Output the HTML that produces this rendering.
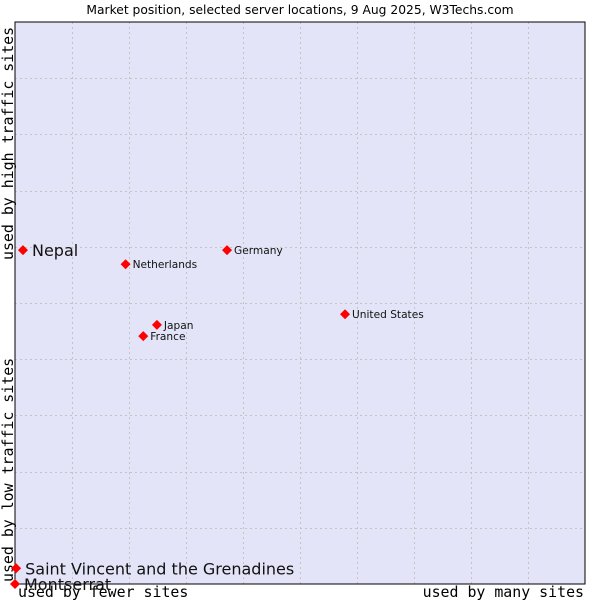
<!DOCTYPE html>
<html><head><meta charset="utf-8"><style>
body{margin:0;background:#fff;}
svg{display:block;font-family:"DejaVu Sans","Liberation Sans",sans-serif;}
.ax{font-family:"DejaVu Sans Mono","Liberation Mono",monospace;font-size:14.9px;fill:#000;}
</style></head><body>
<svg id="chart" width="600" height="600">
<text x="300" y="14" text-anchor="middle" font-size="12.3" fill="#000">Market position, selected server locations, 9 Aug 2025, W3Techs.com</text>
<rect x="15" y="22" width="570" height="562" fill="#e4e4f8" stroke="none"/>
<g id="grid"></g>
<rect x="15" y="22" width="570" height="562" fill="none" stroke="#000" stroke-width="1"/>
<text class="ax" x="18" y="597">used by fewer sites</text>
<text class="ax" x="584" y="597" text-anchor="end">used by many sites</text>
<text class="ax" transform="translate(13,582) rotate(-90)">used by low traffic sites</text>
<text class="ax" transform="translate(13,260) rotate(-90)">used by high traffic sites</text>
<g id="points"></g>
</svg>
<script>
const names = ["Nepal","Netherlands","Germany","United States","Japan","France","Saint Vincent and the Grenadines","Montserrat"];
const xValues = [1.4,19.4,37.2,57.9,24.9,22.5,0.2,0];
const yValues = [59.4,56.9,59.4,48.0,46.1,44.1,2.8,0];
const bigLabel = [true,false,false,false,false,false,true,true];
const NS="http://www.w3.org/2000/svg";
const L=15,T=22,W=570,H=562;
const xs=v=>L+v/100*W, ys=v=>T+H-v/100*H;
const grid=document.getElementById('grid');
for(let i=1;i<10;i++){
  const a=document.createElementNS(NS,'line');
  a.setAttribute('x1',Math.round(L+i*W/10)+0.5);a.setAttribute('x2',Math.round(L+i*W/10)+0.5);
  a.setAttribute('y1',T);a.setAttribute('y2',T+H);
  a.setAttribute('stroke','#c4c4c4');a.setAttribute('stroke-dasharray','2,3');
  
  
  grid.appendChild(a);
  const b=document.createElementNS(NS,'line');
  b.setAttribute('y1',Math.round(T+i*H/10)+0.5);b.setAttribute('y2',Math.round(T+i*H/10)+0.5);
  b.setAttribute('x1',L);b.setAttribute('x2',L+W);
  b.setAttribute('stroke','#c4c4c4');b.setAttribute('stroke-dasharray','2,3');
  
  
  grid.appendChild(b);
}
const pts=document.getElementById('points');
names.forEach((n,i)=>{
  const x=xs(xValues[i]),y=ys(yValues[i]);
  const p=document.createElementNS(NS,'polygon');
  p.setAttribute('points',`${x},${y-5} ${x+5},${y} ${x},${y+5} ${x-5},${y}`);
  p.setAttribute('fill','#ff0000');
  
  
  pts.appendChild(p);
  const t=document.createElementNS(NS,'text');
  t.setAttribute('x',x+(bigLabel[i]?9:7));
  t.setAttribute('y',y+(bigLabel[i]?6:4));
  t.setAttribute('font-size',bigLabel[i]?'16':'10.6');
  t.setAttribute('fill','#111');
  t.textContent=n;
  
  
  pts.appendChild(t);
});
</script>
</body></html>
